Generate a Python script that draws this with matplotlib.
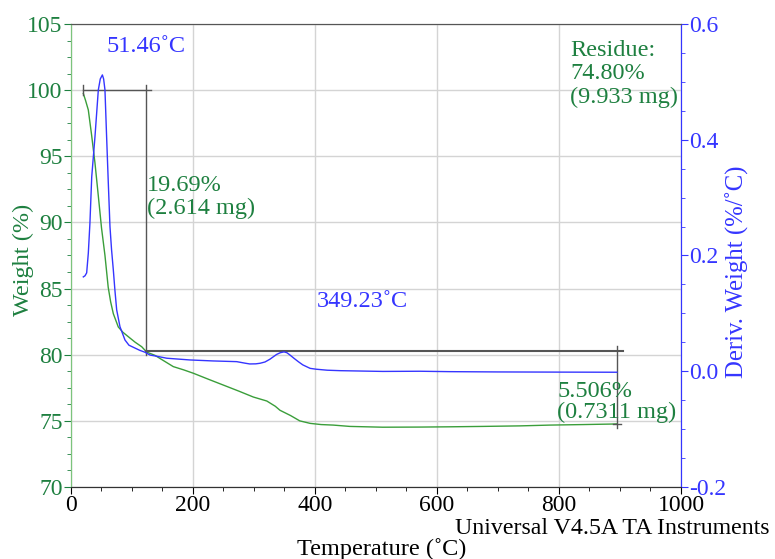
import numpy as np
import matplotlib.pyplot as plt
from matplotlib.ticker import MultipleLocator, FormatStrFormatter

plt.rcParams['font.family'] = ['Liberation Serif', 'DejaVu Serif']
plt.rcParams['axes.unicode_minus'] = False

# weight curve (temperature C, weight %)
temp_w = [20.2, 24, 28.4, 33.8, 39.3, 44.8, 50, 55.7, 61, 65, 69.4, 77.5, 85, 94,
          105, 116, 124, 137.7, 150, 167.7, 185, 200.5, 225, 250, 275, 299, 321,
          335, 342.6, 360, 375, 392, 410, 430, 457, 511, 572, 620, 675, 736, 785,
          840, 889, 895]
weight = [99.75, 99.2, 98.5, 96.6, 94.5, 92.0, 89.6, 87.5, 85.1, 84.0, 83.1, 82.1,
          81.7, 81.36, 80.95, 80.6, 80.2, 79.95, 79.6, 79.1, 78.85, 78.6, 78.15,
          77.7, 77.25, 76.8, 76.5, 76.1, 75.8, 75.4, 75.0, 74.81, 74.72, 74.68,
          74.58, 74.52, 74.53, 74.55, 74.58, 74.62, 74.68, 74.72, 74.76, 74.77]

# derivative curve (temperature C, %/C)
temp_d = [20.2, 23, 25.7, 28.4, 31, 34, 39.3, 44.8, 48, 51.46, 53.5, 55.7, 58.4,
          61, 63.9, 66.5, 69.4, 72, 74.9, 80.3, 88.5, 95, 105, 113, 121, 129.5,
          137.7, 157, 195, 233, 271.6, 285, 293, 303, 310, 318, 326, 337, 343,
          349.23, 354, 359, 366, 372.6, 380, 386, 392, 402, 420, 441, 511, 572,
          621, 700, 800, 889, 895]
deriv = [0.163, 0.165, 0.170, 0.204, 0.255, 0.336, 0.405, 0.486, 0.505, 0.512,
         0.505, 0.486, 0.405, 0.33, 0.25, 0.21, 0.175, 0.14, 0.106, 0.077, 0.054,
         0.045, 0.04, 0.036, 0.033, 0.028, 0.0265, 0.0225, 0.0195, 0.0178, 0.0166,
         0.014, 0.0126, 0.0128, 0.0138, 0.016, 0.0207, 0.029, 0.032, 0.0335, 0.032,
         0.028, 0.022, 0.0166, 0.011, 0.008, 0.005, 0.0035, 0.0018, 0.001, -0.0003,
         0.0, -0.0007, -0.0012, -0.0015, -0.0017, -0.0017]

# step analysis marks
step1_t = [20, 123, 131]   # start, transition, end of upper line
step1_w = [100.0, 80.31]
step2_t = [123, 895, 905]
step2_w = [80.31, 74.80]

green_line = '#3a9e3a'
green_text = '#1e8040'
blue = '#3535ff'

fig = plt.figure(figsize=(7.75, 5.59), dpi=100)
ax = fig.add_axes([0.0916, 0.1288, 0.7871, 0.8283])
ax2 = ax.twinx()

ax.plot(temp_w, weight, color=green_line, lw=1.0)
ax2.plot(temp_d, deriv, color=blue, lw=1.0)

# step marks
mk = '#555555'
ax.plot([step1_t[0], step1_t[2]], [step1_w[0], step1_w[0]], color=mk, lw=1.0)
ax.plot([step1_t[0], step1_t[0]], [step1_w[0] + 0.35, step1_w[0] - 0.35], color=mk, lw=1.0)
ax.plot([step1_t[1], step1_t[1]], [step1_w[0] + 0.35, step1_w[1] - 0.35], color=mk, lw=1.0)
ax.plot([step2_t[0], step2_t[2]], [step2_w[0], step2_w[0]], color=mk, lw=1.5)
ax.plot([step2_t[1], step2_t[1]], [step2_w[0] + 0.35, step2_w[1] - 0.35], color=mk, lw=1.0)
ax.plot([step2_t[1] - 6, step2_t[1] + 6], [step2_w[1], step2_w[1]], color=mk, lw=1.0)

ax.set_xlim(0, 1000)
ax.set_ylim(70, 105)
ax2.set_ylim(-0.2, 0.6)

ax.xaxis.set_major_locator(MultipleLocator(200))
ax.xaxis.set_minor_locator(MultipleLocator(50))
ax.yaxis.set_major_locator(MultipleLocator(5))
ax.yaxis.set_minor_locator(MultipleLocator(1.25))
ax2.yaxis.set_major_locator(MultipleLocator(0.2))
ax2.yaxis.set_minor_locator(MultipleLocator(0.05))
ax2.yaxis.set_major_formatter(FormatStrFormatter('%.1f'))

ax.grid(True, which='major', color='#d4d4d4', lw=1.0)
ax.set_axisbelow(True)

tfs = 17
ax.tick_params(axis='x', which='both', colors='black', labelsize=tfs, pad=1)
ax.tick_params(axis='x', which='major', length=5)
ax.tick_params(axis='x', which='minor', length=3)
ax.tick_params(axis='y', which='both', colors=green_text, labelsize=tfs, pad=1)
ax.tick_params(axis='y', which='major', length=5)
ax.tick_params(axis='y', which='minor', length=3)
ax2.tick_params(axis='y', which='both', colors=blue, labelsize=tfs, pad=1)
ax2.tick_params(axis='y', which='major', length=5)
ax2.tick_params(axis='y', which='minor', length=3)

for a in (ax, ax2):
    a.spines['left'].set_color('#7cc47c')
    a.spines['right'].set_color(blue)
    a.spines['top'].set_color('#555555')
    a.spines['bottom'].set_color('#333333')

fs = 17.5
ax.text(59, 103.3, '51.46˚C', color=blue, fontsize=fs, va='center')
ax.text(124.6, 91.9, '19.69%\n(2.614 mg)', color=green_text, fontsize=fs, va='center', linespacing=1.1)
ax.text(403, 84.0, '349.23˚C', color=blue, fontsize=fs, va='center')
ax.text(818, 101.25, 'Residue:\n74.80%\n(9.933 mg)', color=green_text, fontsize=fs, va='center', linespacing=1.15)
ax.text(797, 76.4, '5.506%\n(0.7311 mg)', color=green_text, fontsize=fs, va='center', linespacing=1.0)

fig.text(0.9935, 0.055, 'Universal V4.5A TA Instruments', ha='right', va='center', fontsize=17.2)
fig.text(0.493, 0.0170, 'Temperature (˚C)', ha='center', va='center', fontsize=17.5)
fig.text(0.0297, 0.535, 'Weight (%)', rotation=90, ha='center', va='center', color=green_text, fontsize=fs)
fig.text(0.951, 0.513, 'Deriv. Weight (%/˚C)', rotation=90, ha='center', va='center', color=blue, fontsize=17.8)

fig.savefig('out.png', dpi=100)
